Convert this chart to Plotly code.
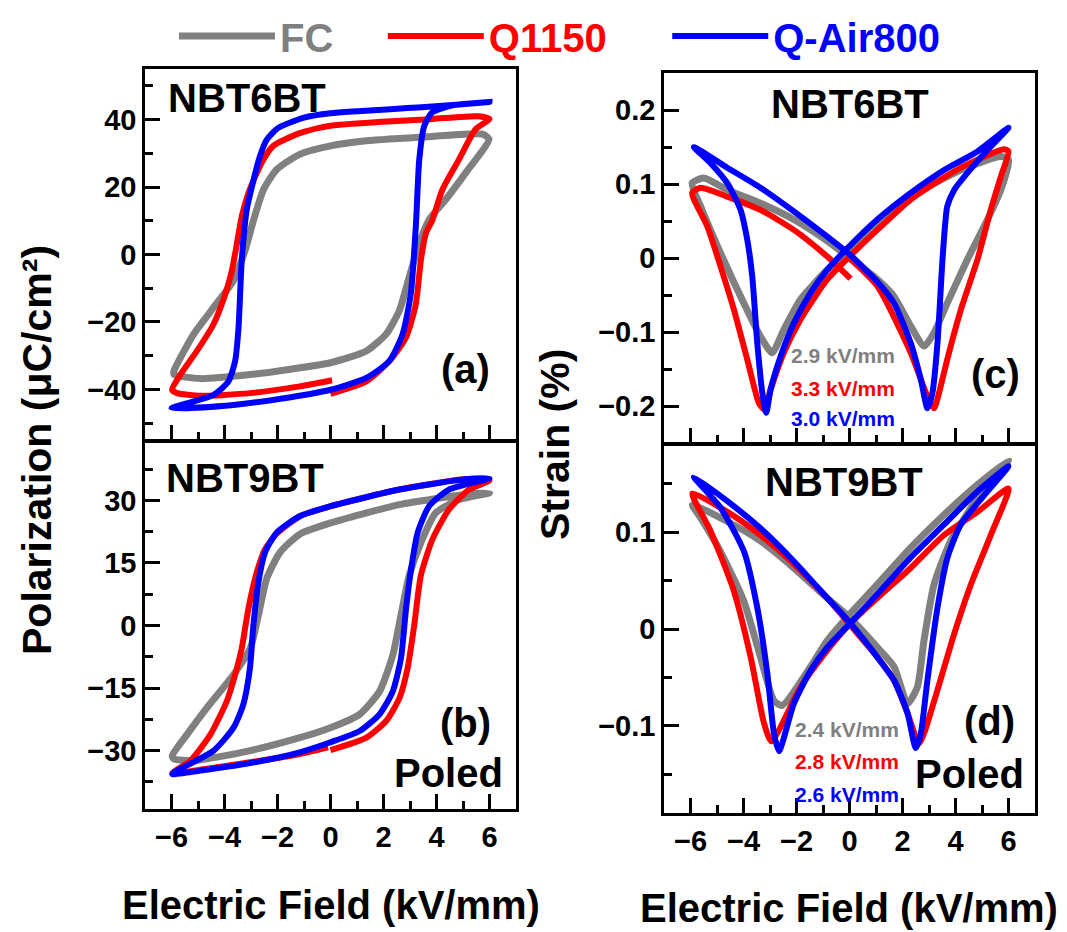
import plotly.graph_objects as go

W, H = 1067, 932
FONT = "Liberation Sans, Arial, sans-serif"
C_FC, C_Q, C_AIR = "#808080", "#ff0000", "#0000ff"
SERIES = ["FC", "Q1150", "Q-Air800"]

# ---------------- Panel (a): NBT6BT P-E loops ----------------
a_fc_E = [0, 1.35, 2.1, 2.6, 2.97, 3.35, 3.72, 4.35, 5.1, 5.98, 5.73, 3.85, 1.35, 0, -1.16, -2.03, -2.53, -2.9, -3.22, -3.66, -4.41, -5.16, -5.91, -5.9, -4.91, -3.03, -1.5, 0]
a_fc_P = [-32.1, -28.6, -23.6, -16.6, -6.7, 3.3, 10.3, 16.3, 24.2, 34.2, 35.7, 35.0, 33.7, 32.2, 29.7, 25.2, 19.2, 10.3, 1.3, -7.7, -15.7, -23.6, -34.6, -35.6, -36.8, -35.6, -34.0, -32.1]
a_q_E = [0, 1.35, 2.22, 2.85, 3.22, 3.41, 3.6, 3.85, 4.22, 4.85, 5.48, 6, 5.6, 3.85, 0, -1.16, -2.16, -2.53, -2.78, -3.1, -3.35, -3.53, -3.72, -3.97, -4.41, -5.04, -5.66, -5.98, -5.79, -4.91, -3.03, -1.16, 0.06]
a_q_P = [-41.3, -37.6, -31.6, -24.6, -14.7, -1.7, 6.3, 10.3, 19.2, 28.2, 37.2, 40.2, 41.0, 40.2, 38.2, 36.0, 32.2, 28.2, 24.2, 18.2, 11.3, 3.3, -4.7, -11.7, -20.6, -28.6, -35.6, -40.1, -41.1, -41.9, -41.1, -39.1, -37.3]
a_air_E = [0, 1.35, 2.22, 2.72, 3.03, 3.22, 3.35, 3.54, 3.85, 4.6, 6, 3.85, 0, -1.0, -2.0, -2.41, -2.66, -2.9, -3.16, -3.35, -3.47, -3.6, -3.85, -4.41, -6, -3.66, -1.5, 0]
a_air_P = [-40.1, -36.6, -31.6, -23.6, -11.7, 8.3, 28.2, 38.2, 42.2, 44.2, 45.2, 43.9, 41.9, 40.6, 37.4, 34.0, 29.2, 22.2, 13.3, -1.7, -21.6, -31.6, -37.6, -41.6, -45.6, -44.6, -42.3, -40.1]

# ---------------- Panel (b): NBT9BT poled P-E loops ----------------
b_fc_E = [0, 1.1, 1.85, 2.35, 2.66, 2.97, 3.41, 3.97, 4.85, 6, 5.1, 2.6, 0, -1.16, -1.91, -2.41, -2.72, -3.03, -3.66, -4.66, -5.41, -5.97, -5.9, -5.16, -3.03, -1.16, 0]
b_fc_P = [-24.5, -21.3, -15.8, -7.1, 2.5, 12.0, 19.9, 27.0, 30.2, 31.8, 31.4, 29.0, 24.6, 21.9, 17.5, 11.2, 2.5, -5.5, -11.8, -19.7, -26.1, -31.2, -32.0, -32.4, -30.0, -26.9, -24.5]
b_q_E = [0, 1.35, 2.1, 2.6, 2.91, 3.16, 3.41, 3.85, 4.47, 5.23, 6, 5.1, 2.6, 0, -1.16, -2.03, -2.47, -2.78, -3.1, -3.35, -3.6, -3.91, -4.53, -5.28, -5.97, -4.91, -3.03, -1.16, -0.09]
b_q_P = [-29.9, -26.9, -22.9, -17.4, -10.2, 0.1, 12.0, 20.7, 27.8, 32.6, 34.8, 35.1, 32.6, 28.6, 26.2, 22.0, 18.3, 12.8, 4.0, -5.5, -11.8, -18.1, -26.1, -32.4, -35.4, -34.6, -32.8, -30.8, -29.2]
b_air_E = [0, 1.1, 1.85, 2.35, 2.66, 2.85, 3.04, 3.29, 3.72, 4.47, 6, 5.1, 2.6, 0, -1.16, -2.03, -2.47, -2.72, -2.91, -3.04, -3.29, -3.66, -4.41, -5.97, -4.91, -3.03, -1.16, 0]
b_air_P = [-28.0, -25.3, -21.3, -15.8, -7.8, 4.0, 13.5, 22.3, 28.6, 32.6, 35.3, 35.1, 32.6, 28.6, 26.2, 22.3, 17.5, 10.4, 0.1, -10.2, -18.9, -24.5, -30.0, -35.6, -34.8, -33.0, -30.4, -28.0]

# ---------------- Panel (c): NBT6BT strain loops ----------------
c_fc_E = [0, 1.05, 1.68, 2.31, 2.82, 3.19, 3.69, 4.45, 5.21, 5.71, 6, 5.71, 4.2, 2.31, 1.05, 0, -0.84, -1.85, -2.48, -2.92, -3.36, -3.99, -4.87, -5.62, -5.94, -5.5, -4.61, -3.36, -2.1, -0.84, 0]
c_fc_S = [0.0, -0.029, -0.052, -0.092, -0.119, -0.101, -0.061, -0.002, 0.052, 0.092, 0.133, 0.137, 0.119, 0.083, 0.047, 0.011, -0.016, -0.056, -0.097, -0.128, -0.106, -0.061, 0.007, 0.070, 0.101, 0.108, 0.092, 0.074, 0.052, 0.023, 0.0]
c_q_E = [0, 1.05, 2.31, 2.94, 3.19, 3.38, 3.69, 4.2, 4.83, 5.33, 5.71, 6, 5.83, 4.2, 2.31, 1.05, 0, -0.84, -1.85, -2.48, -2.98, -3.21, -3.42, -3.86, -4.36, -4.87, -5.37, -5.87, -5.94, -5.62, -4.61, -3.36, -2.1, -0.84, 0.04]
c_q_S = [0.0, -0.038, -0.128, -0.187, -0.203, -0.182, -0.137, -0.070, -0.002, 0.065, 0.110, 0.144, 0.147, 0.122, 0.079, 0.038, 0.002, -0.029, -0.083, -0.128, -0.178, -0.205, -0.196, -0.137, -0.070, -0.011, 0.043, 0.079, 0.088, 0.095, 0.083, 0.065, 0.038, 0.002, -0.028]
c_air_E = [0, 1.05, 1.68, 2.31, 2.69, 2.94, 3.13, 3.32, 3.51, 3.69, 3.95, 4.45, 5.21, 6, 4.83, 3.57, 2.31, 1.05, 0, -0.84, -1.47, -2.1, -2.6, -2.98, -3.14, -3.29, -3.48, -3.67, -3.86, -4.11, -4.61, -5.24, -5.87, -4.61, -3.36, -2.1, -0.84, 0]
c_air_S = [0.005, -0.032, -0.061, -0.115, -0.164, -0.203, -0.182, -0.115, -0.002, 0.070, 0.092, 0.115, 0.146, 0.176, 0.144, 0.119, 0.088, 0.052, 0.016, -0.016, -0.047, -0.088, -0.133, -0.178, -0.209, -0.182, -0.115, -0.025, 0.025, 0.065, 0.101, 0.128, 0.150, 0.122, 0.095, 0.063, 0.029, 0.005]

# ---------------- Panel (d): NBT9BT poled strain loops ----------------
d_fc_E = [0, 1.05, 1.68, 2.19, 2.56, 2.81, 3.19, 3.82, 4.83, 6, 4.83, 3.57, 2.31, 1.05, 0, -0.84, -1.47, -2.54, -2.85, -3.36, -3.99, -4.87, -5.62, -5.93, -4.61, -3.36, -2.1, -0.84, 0]
d_fc_S = [0.012, -0.019, -0.039, -0.077, -0.060, -0.012, 0.046, 0.091, 0.135, 0.174, 0.149, 0.118, 0.084, 0.046, 0.015, -0.012, -0.039, -0.079, -0.074, -0.029, 0.029, 0.080, 0.115, 0.128, 0.111, 0.091, 0.063, 0.032, 0.012]
d_q_E = [0, 1.05, 1.68, 2.19, 2.62, 2.81, 3.32, 3.95, 4.58, 5.33, 6, 4.83, 3.57, 2.31, 1.05, 0, -0.84, -1.85, -2.95, -3.23, -3.73, -4.36, -5.24, -5.93, -4.61, -3.36, -2.1, -0.84, 0]
d_q_S = [0.005, -0.029, -0.053, -0.087, -0.118, -0.108, -0.063, -0.005, 0.046, 0.097, 0.145, 0.121, 0.097, 0.063, 0.032, 0.005, -0.022, -0.060, -0.116, -0.097, -0.029, 0.039, 0.101, 0.140, 0.121, 0.097, 0.067, 0.032, 0.005]
d_air_E = [0, 1.05, 1.68, 2.19, 2.5, 2.69, 2.94, 3.32, 3.7, 4.2, 5.08, 6, 4.83, 3.57, 2.31, 1.05, 0, -0.84, -1.47, -2.1, -2.66, -2.85, -3.1, -3.48, -3.98, -4.86, -5.87, -4.61, -3.36, -2.1, -0.84, 0]
d_air_S = [0.007, -0.029, -0.053, -0.087, -0.123, -0.108, -0.053, 0.022, 0.074, 0.108, 0.138, 0.168, 0.142, 0.108, 0.074, 0.036, 0.005, -0.019, -0.043, -0.077, -0.126, -0.108, -0.046, 0.022, 0.080, 0.125, 0.157, 0.132, 0.104, 0.070, 0.032, 0.007]

# tick labels
x_ticks = [-6, -4, -2, 0, 2, 4, 6]
coercive_c = ["2.9 kV/mm", "3.3 kV/mm", "3.0 kV/mm"]
coercive_d = ["2.4 kV/mm", "2.8 kV/mm", "2.6 kV/mm"]

fig = go.Figure()

panels = [
    ("x", "y", [(a_fc_E, a_fc_P), (a_q_E, a_q_P), (a_air_E, a_air_P)], True),
    ("x2", "y2", [(b_fc_E, b_fc_P), (b_q_E, b_q_P), (b_air_E, b_air_P)], False),
    ("x3", "y3", [(c_fc_E, c_fc_S), (c_q_E, c_q_S), (c_air_E, c_air_S)], False),
    ("x4", "y4", [(d_fc_E, d_fc_S), (d_q_E, d_q_S), (d_air_E, d_air_S)], False),
]
colors = [C_FC, C_Q, C_AIR]
widths = [7, 6, 6]
pads = ["\u00a0" * 4, "\u00a0" * 5, ""]
for xa, ya, curves, show in panels:
    for i, (ex, ey) in enumerate(curves):
        name = f"<span style='color:{colors[i]}'>{SERIES[i]}</span>" + pads[i]
        fig.add_trace(go.Scatter(
            x=ex, y=ey, mode="lines", xaxis=xa, yaxis=ya,
            line=dict(color=colors[i], width=widths[i], shape="spline", smoothing=0.6),
            name=name, showlegend=show, hoverinfo="skip"))

def px(x):
    return x / W

def py(y):
    return 1 - y / H

common = dict(showline=True, linecolor="black", linewidth=2.5, mirror=True,
              ticks="inside", tickcolor="black", tickwidth=2.5, ticklen=15,
              showgrid=False, zeroline=False,
              tickfont=dict(family=FONT, size=29, color="black", weight="bold"))
minor = dict(ticks="inside", ticklen=8, tickwidth=2.5, tickcolor="black", showgrid=False)

xl = [px(145), px(516)]
xr = [px(664), px(1035)]
fig.update_layout(
    xaxis=dict(domain=xl, range=[-7, 7], tickvals=x_ticks, showticklabels=False, anchor="y",
               minor=dict(dtick=1, tick0=0, **minor), **common),
    yaxis=dict(domain=[py(440), py(69)], range=[-55, 55], dtick=20, tick0=0, anchor="x",
               minor=dict(dtick=10, tick0=0, **minor), **common),
    xaxis2=dict(domain=xl, range=[-7, 7], tickvals=x_ticks, anchor="y2",
                minor=dict(dtick=1, tick0=0, **minor), **common),
    yaxis2=dict(domain=[py(809), py(442)], range=[-44, 44], dtick=15, tick0=0, anchor="x2",
                minor=dict(dtick=7.5, tick0=0, **minor), **common),
    xaxis3=dict(domain=xr, range=[-7, 7], tickvals=x_ticks, showticklabels=False, anchor="y3",
                minor=dict(dtick=1, tick0=0, **minor), **common),
    yaxis3=dict(domain=[py(443), py(73)], range=[-0.25, 0.25], dtick=0.1, tick0=0, anchor="x3",
                minor=dict(dtick=0.05, tick0=0, **minor), **common),
    xaxis4=dict(domain=xr, range=[-7, 7], tickvals=x_ticks, anchor="y4",
                minor=dict(dtick=1, tick0=0, **minor), **common),
    yaxis4=dict(domain=[py(813), py(445)], range=[-0.19, 0.19], dtick=0.1, tick0=0, anchor="x4",
                minor=dict(dtick=0.05, tick0=0, **minor), **common),
)

ann = []
def label(text, x, y, size=40, color="black", angle=0):
    ann.append(dict(text=text, x=px(x), y=py(y), xref="paper", yref="paper",
                    showarrow=False, xanchor="center", yanchor="middle", textangle=angle,
                    font=dict(family=FONT, size=size, color=color, weight="bold")))

label("NBT6BT", 247, 98)
label("(a)", 465, 369)
label("NBT9BT", 245, 478)
label("(b)", 465, 723)
label("Poled", 448, 773)
label("NBT6BT", 850, 104)
label("(c)", 995, 374)
label("NBT9BT", 844, 482)
label("(d)", 989, 721)
label("Poled", 969, 774)
for i, t in enumerate(coercive_c):
    label(t, 843, [355, 388, 419][i], size=21, color=colors[i])
for i, t in enumerate(coercive_d):
    label(t, 847, [729, 761, 794][i], size=21, color=colors[i])
label("Electric Field (kV/mm)", 331, 905)
label("Electric Field (kV/mm)", 849, 908)
label("Polarization (μC/cm²)", 37, 450, size=41, angle=-90)
label("Strain (%)", 555, 445, size=41, angle=-90)

fig.update_layout(
    width=W, height=H, margin=dict(l=0, r=0, t=0, b=0),
    paper_bgcolor="white", plot_bgcolor="white",
    annotations=ann,
    legend=dict(orientation="h", x=px(174), y=py(36), xanchor="left", yanchor="middle",
                itemwidth=96, font=dict(family=FONT, size=40, weight="bold"),
                bgcolor="rgba(0,0,0,0)"),
)

fig.write_html("out.html")
